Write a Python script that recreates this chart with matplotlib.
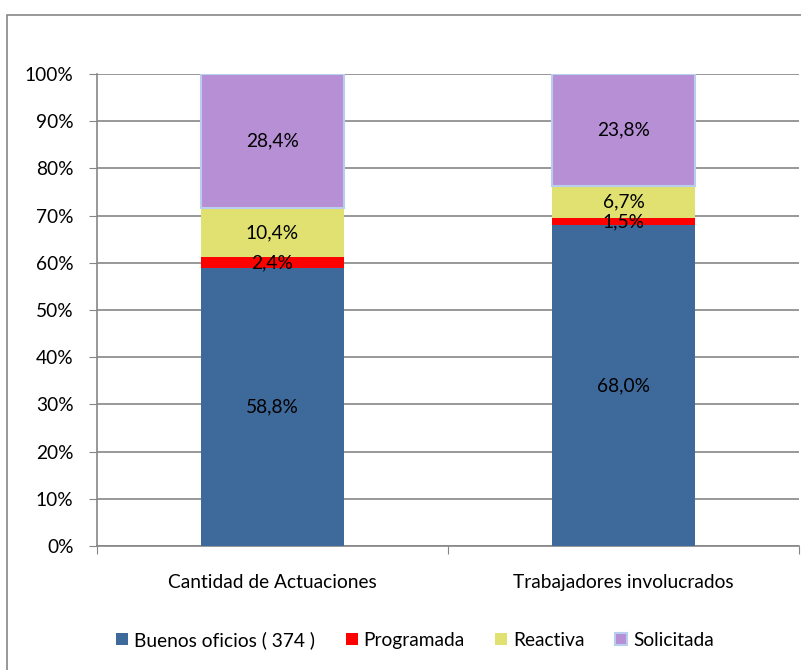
import matplotlib.pyplot as plt
import matplotlib.patches as mpatches
import numpy as np

plt.rcParams['font.family'] = ['Lato', 'DejaVu Sans']

categories = ["Cantidad de Actuaciones", "Trabajadores involucrados"]
series = ["Buenos oficios ( 374 )", "Programada", "Reactiva", "Solicitada"]
values = {
    "Buenos oficios ( 374 )": [58.8, 68.0],
    "Programada": [2.4, 1.5],
    "Reactiva": [10.4, 6.7],
    "Solicitada": [28.4, 23.8],
}
colors = ["#3E6A9B", "#FF0000", "#E0E170", "#B68FD5"]
edges = ["none", "none", "none", "#B9CDEF"]

FS = 13.8

fig = plt.figure(figsize=(8.01, 6.70), dpi=100)
W, H = 801, 670
ax = fig.add_axes([97 / W, 1 - 546 / H, (799 - 97) / W, (546 - 74) / H])

# outer chart border
fig.patches.append(mpatches.Rectangle((7 / W, -0.1), 1.2, 1 - 15 / H + 0.1,
                                      transform=fig.transFigure, fill=False,
                                      edgecolor="#868686", linewidth=1.2))

x = np.arange(len(categories))
bottom = np.zeros(len(categories))
handles = []
for name, c, ec in zip(series, colors, edges):
    v = np.array(values[name])
    bars = ax.bar(x, v, 0.405, bottom=bottom, color=c, edgecolor=ec,
                  linewidth=1.5, zorder=3, label=name)
    for xi, b, vi in zip(x, bottom, v):
        ax.text(xi, b + vi / 2, f"{vi:.1f}%".replace(".", ","), ha="center",
                va="center", fontsize=FS, color="black", zorder=5)
    bottom += v
    handles.append(bars)

ax.set_xlim(-0.5, 1.5)
ax.set_ylim(0, 100)
ax.set_yticks(np.arange(0, 101, 10))
ax.set_yticklabels([f"{t}%" for t in range(0, 101, 10)], fontsize=FS)
ax.yaxis.grid(True, color="#868686", linewidth=1.2, zorder=0)
ax.set_axisbelow(True)

ax.set_xticks([-0.5, 0.5, 1.5])
ax.set_xticklabels([])
ax.set_xticks(x, minor=True)
ax.set_xticklabels(categories, minor=True, fontsize=FS)
ax.tick_params(axis="x", which="minor", length=0, pad=20)
ax.tick_params(axis="x", which="major", length=6, color="#868686")
ax.tick_params(axis="y", length=6, color="#868686", pad=11)

for s in ["top", "right"]:
    ax.spines[s].set_visible(False)
for s in ["left", "bottom"]:
    ax.spines[s].set_color("#868686")
    ax.spines[s].set_linewidth(1.2)

fig.legend(handles=handles, labels=series, loc="center", ncol=4,
           bbox_to_anchor=(415 / W, 1 - 640 / H), frameon=False,
           fontsize=FS, handlelength=0.63, handleheight=0.63,
           handletextpad=0.3, columnspacing=1.6)

fig.savefig("out.png", dpi=100)
